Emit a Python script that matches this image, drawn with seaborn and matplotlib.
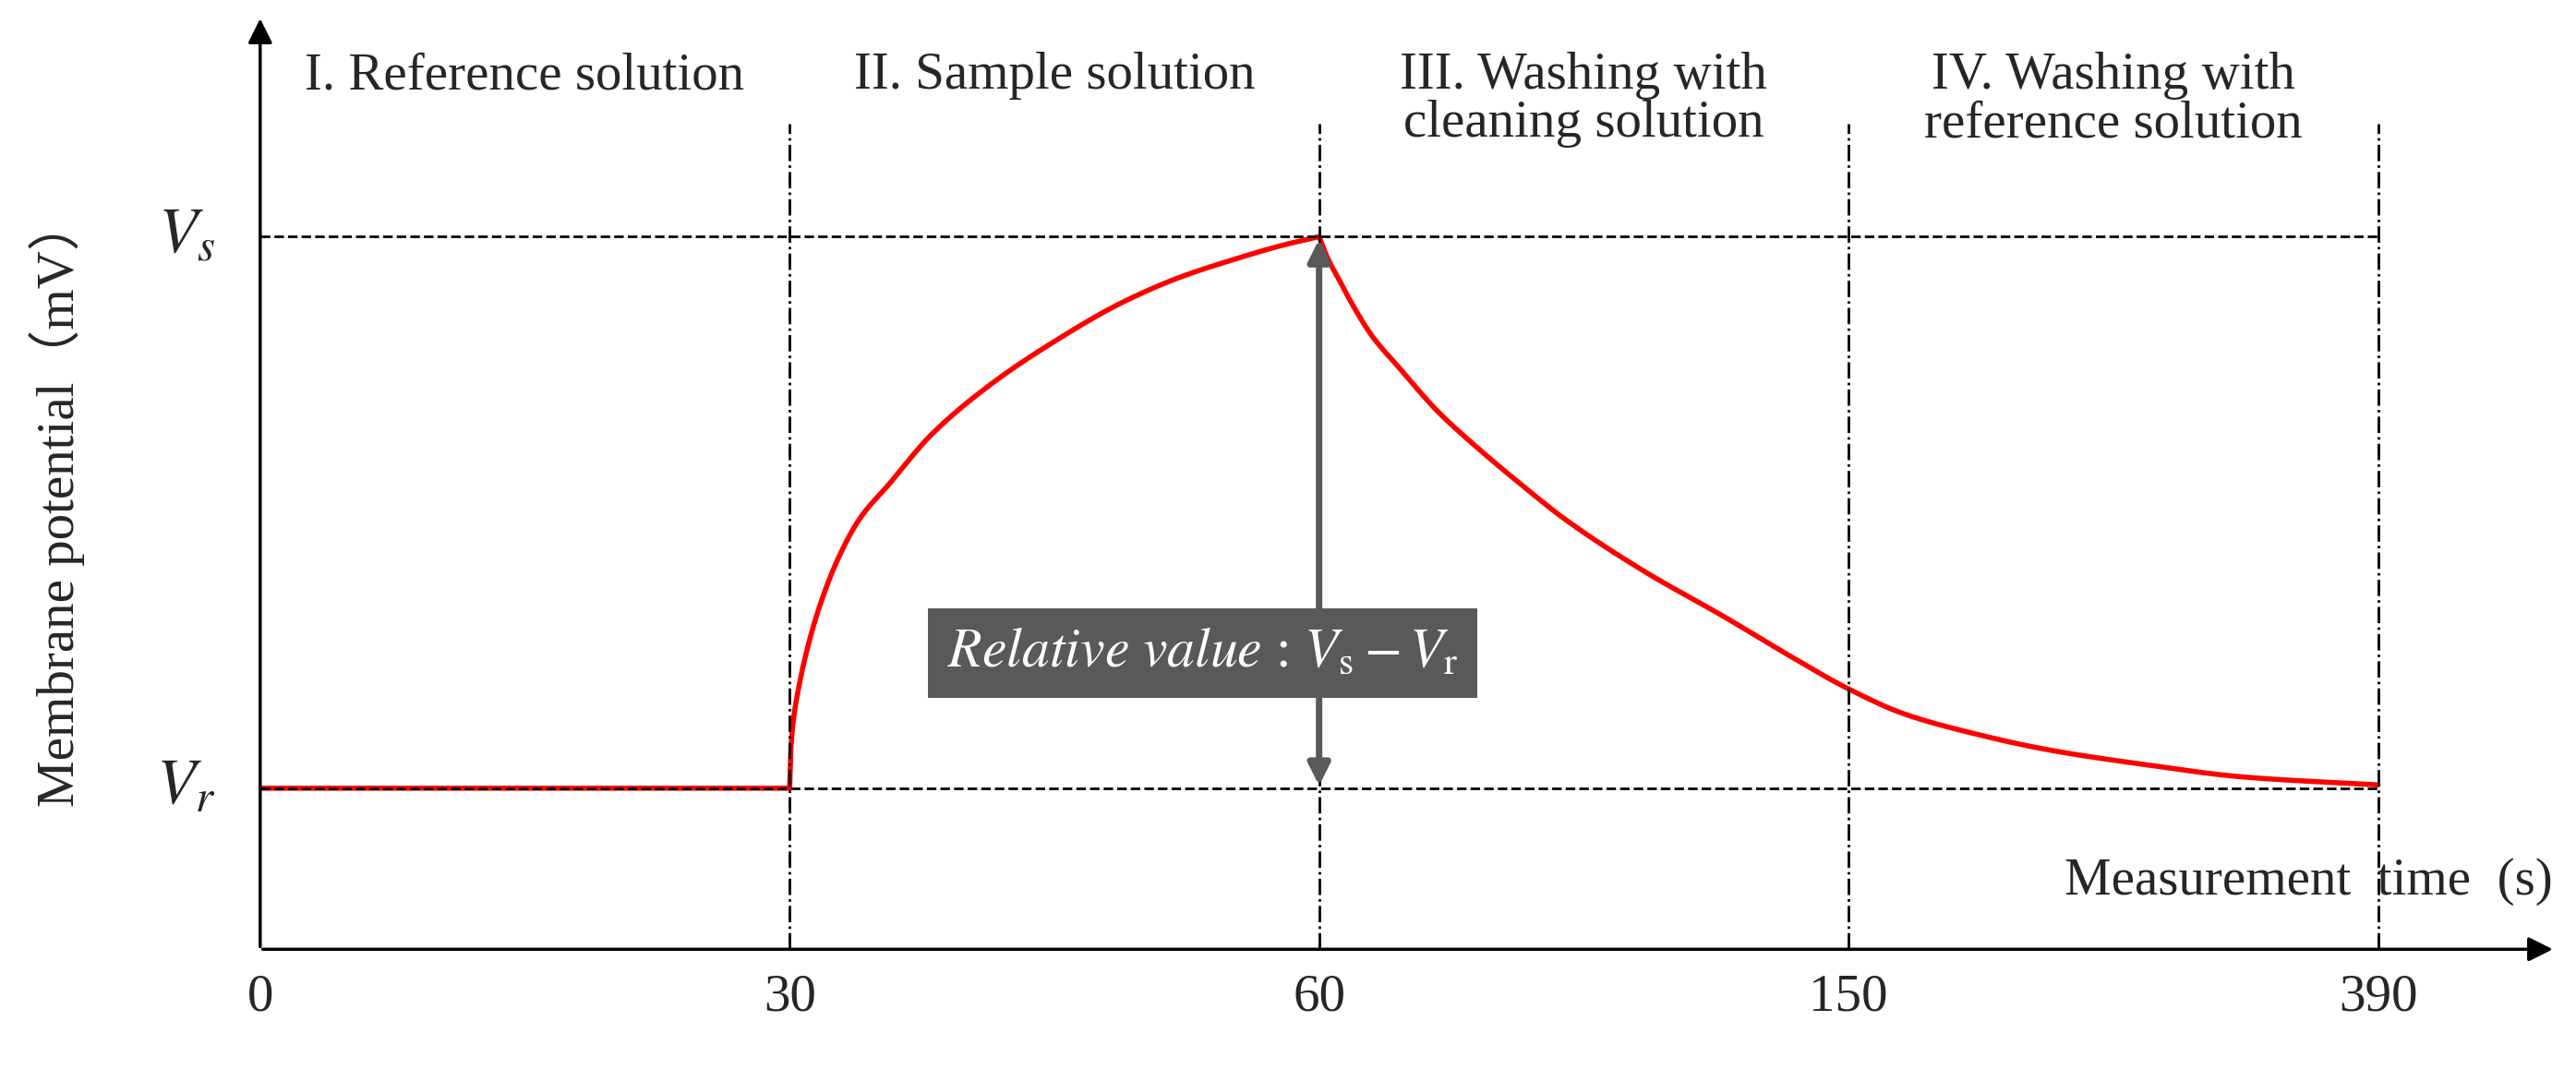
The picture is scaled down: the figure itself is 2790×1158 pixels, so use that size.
import numpy as np
import matplotlib.pyplot as plt
import seaborn as sns

# tick positions on the (non-linear) time axis
tick_times = [0, 30, 60, 150, 390]
tick_pos = [0, 1, 2, 3, 4]

# membrane potential curve (Vr = 1, Vs = 2)
t_sec = [0, 30, 30.05, 30.2, 30.5, 30.9, 31.7, 32.8, 34.0, 35.6, 38.0, 41.3, 45.0, 48.8, 52.0, 55.3, 58.0, 60,
         61.5, 63.5, 65.5, 69.0, 73.8, 80.0, 87.7, 95.0, 101.5, 115.0, 129.0, 140.0, 150.0,
         175.0, 205.9, 240.0, 280.4, 330.0, 390.0]
potential = [1, 1, 1.06, 1.12, 1.18, 1.24, 1.33, 1.42, 1.49, 1.55, 1.64, 1.73, 1.81, 1.88, 1.925, 1.96, 1.985, 2.0,
             1.96, 1.92, 1.88, 1.82, 1.76, 1.685, 1.61, 1.545, 1.49, 1.395, 1.31, 1.24, 1.18,
             1.135, 1.10, 1.07, 1.045, 1.02, 1.006]

phase_labels = ["I. Reference solution", "II. Sample solution",
                "III. Washing with\ncleaning solution", "IV. Washing with\nreference solution"]
phase_x = [0.5, 1.5, 2.5, 3.5]


def pchip(x, y, xs):
    # monotone cubic through the read points, only to smooth the drawing
    x = np.asarray(x, float)
    y = np.asarray(y, float)
    h = np.diff(x)
    d = np.diff(y) / h
    m = np.zeros_like(y)
    for i in range(1, len(x) - 1):
        if d[i - 1] * d[i] > 0:
            w1 = 2 * h[i] + h[i - 1]
            w2 = h[i] + 2 * h[i - 1]
            m[i] = (w1 + w2) / (w1 / d[i - 1] + w2 / d[i])
    m[0], m[-1] = d[0], d[-1]
    idx = np.clip(np.searchsorted(x, xs) - 1, 0, len(h) - 1)
    tt = (xs - x[idx]) / h[idx]
    h00 = 2 * tt**3 - 3 * tt**2 + 1
    h10 = tt**3 - 2 * tt**2 + tt
    h01 = -2 * tt**3 + 3 * tt**2
    h11 = tt**3 - tt**2
    return h00 * y[idx] + h10 * h[idx] * m[idx] + h01 * y[idx + 1] + h11 * h[idx] * m[idx + 1]


sns.set_style("white")
plt.rcParams['font.family'] = ['Liberation Serif', 'DejaVu Serif']
plt.rcParams['mathtext.fontset'] = 'stix'

fig = plt.figure(figsize=(27.9, 11.58), dpi=100)
ax = fig.add_axes([0.101, 0.112, 0.891, 0.873])
ax.set_xlim(0, 4.335)
ax.set_ylim(0.708, 2.40)

x_pos = np.interp(t_sec, tick_times, tick_pos)
pot = np.array(potential)
i30 = 1
i60 = t_sec.index(60)
xs_list, ys_list = [np.array([0.0])], [np.array([1.0])]
for a, b in [(i30, i60), (i60, len(t_sec) - 1)]:
    xs = np.linspace(x_pos[a], x_pos[b], 400)
    xs_list.append(xs)
    ys_list.append(pchip(x_pos[a:b + 1], pot[a:b + 1], xs))
xs_all = np.concatenate(xs_list)
ys_all = np.concatenate(ys_list)
sns.lineplot(x=xs_all, y=ys_all, ax=ax, color='#ff0000', linewidth=4, sort=False)

top = 2.205
for p in tick_pos[1:]:
    ax.plot([p, p], [0.708, top], color='black', linestyle='-.', linewidth=2)
for v in [1, 2]:
    ax.plot([0, 4], [v, v], color='black', linestyle='--', linewidth=2)

for x, lab in zip(phase_x, phase_labels):
    ax.text(x, 2.335, lab, ha='center', va='top', fontsize=41, linespacing=1.0)

for s in ax.spines.values():
    s.set_visible(False)
ax.set_xticks([])
ax.set_yticks([])

# axis arrows
ax.annotate('', xy=(4.335, 0.708), xytext=(0, 0.708),
            arrowprops=dict(arrowstyle='-|>', color='black', lw=2.5, mutation_scale=40),
            annotation_clip=False)
ax.annotate('', xy=(0, 2.40), xytext=(0, 0.708),
            arrowprops=dict(arrowstyle='-|>', color='black', lw=2.5, mutation_scale=40),
            annotation_clip=False)

for p, t in zip(tick_pos, tick_times):
    ax.text(p, 0.62, str(t), ha='center', va='center', fontsize=41)

ax.text(-0.085, 2.0, r'$V_s$', ha='right', va='center', fontsize=50)
ax.text(-0.085, 1.0, r'$V_r$', ha='right', va='center', fontsize=50)
fig.text(0.022, 0.53, 'Membrane potential（mV）', rotation=90, ha='center', va='center',
         fontsize=41, family=['Liberation Serif', 'Noto Sans CJK SC'])
ax.text(4.33, 0.83, 'Measurement  time  (s)', ha='right', va='center', fontsize=41)

ax.annotate('', xy=(2, 2.0), xytext=(2, 1.0),
            arrowprops=dict(arrowstyle='<|-|>', color='#595959', lw=5, mutation_scale=35))
ax.text(1.78, 1.245, r'$\it{Relative\ value}$ : $V_{\rm s} - V_{\rm r}$', ha='center', va='center',
        fontsize=43, color='white',
        bbox=dict(boxstyle='square,pad=0.35', facecolor='#595959', edgecolor='none'))

fig.savefig('out.png', dpi=100)
